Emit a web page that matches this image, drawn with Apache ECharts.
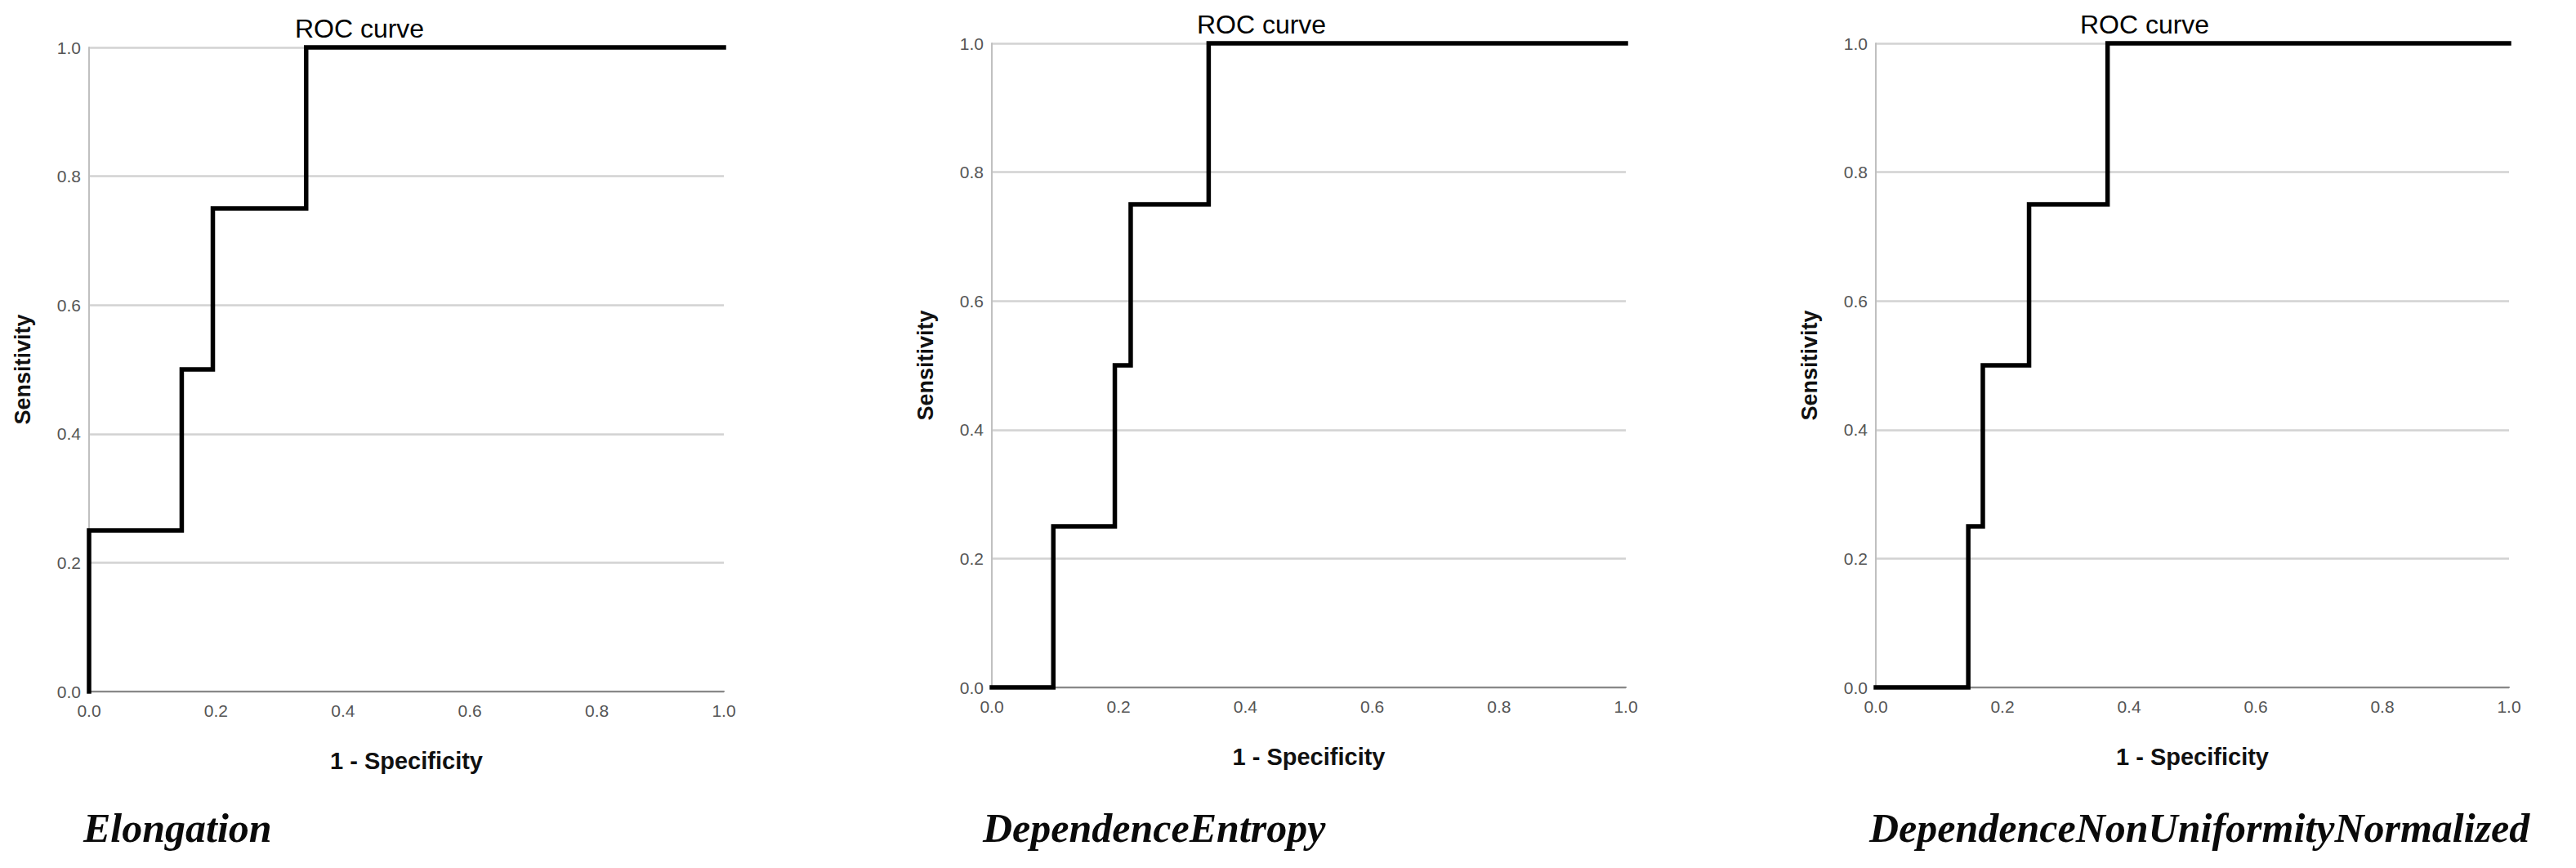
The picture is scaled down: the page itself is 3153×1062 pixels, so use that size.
<!DOCTYPE html>
<html>
<head>
<meta charset="utf-8">
<style>
html,body{margin:0;padding:0;background:#fff;}
#c{width:3153px;height:1062px;}
</style>
<script src="https://cdn.jsdelivr.net/npm/echarts@6/dist/echarts.min.js"></script>
</head>
<body>
<div id="c"></div>
<script>
// ROC curve points (1 - Specificity, Sensitivity)
const fprElongation = [0, 0, 0.146, 0.146, 0.195, 0.195, 0.342, 0.342, 1.0];
const tprElongation = [0, 0.25, 0.25, 0.5, 0.5, 0.75, 0.75, 1.0, 1.0];
const fprEntropy = [0, 0.097, 0.097, 0.194, 0.194, 0.219, 0.219, 0.342, 0.342, 1.0];
const tprEntropy = [0, 0, 0.25, 0.25, 0.5, 0.5, 0.75, 0.75, 1.0, 1.0];
const fprNonUnif = [0, 0.146, 0.146, 0.169, 0.169, 0.242, 0.242, 0.366, 0.366, 1.0];
const tprNonUnif = [0, 0, 0.25, 0.25, 0.5, 0.5, 0.75, 0.75, 1.0, 1.0];
const tickValues = [0.0, 0.2, 0.4, 0.6, 0.8, 1.0];
const chartTitle = 'ROC curve';
const xName = '1 - Specificity';
const yName = 'Sensitivity';
const captions = ['Elongation', 'DependenceEntropy', 'DependenceNonUniformityNormalized'];

const panels = [
  {fpr: fprElongation, tpr: tprElongation, grid: {left: 109, top: 58, width: 777, height: 788}, titleX: 440, titleY: 19, capX: 102},
  {fpr: fprEntropy, tpr: tprEntropy, grid: {left: 1214, top: 53, width: 776, height: 788}, titleX: 1544, titleY: 14, capX: 1203},
  {fpr: fprNonUnif, tpr: tprNonUnif, grid: {left: 2296, top: 53, width: 775, height: 788}, titleX: 2625, titleY: 14, capX: 2288}
];

const chart = echarts.init(document.getElementById('c'), null, {renderer: 'svg'});
const option = {
  backgroundColor: '#fff',
  animation: false,
  title: [],
  grid: [], xAxis: [], yAxis: [], series: []
};
const labelFont = {fontFamily: 'Liberation Sans', fontSize: 21, color: '#555'};
panels.forEach((p, i) => {
  option.grid.push(p.grid);
  option.title.push({
    text: chartTitle, left: p.titleX, top: p.titleY, textAlign: 'center', padding: 0,
    textStyle: {fontFamily: 'Liberation Sans', fontSize: 32, fontWeight: 'normal', color: '#000'}
  });
  option.title.push({
    text: captions[i], left: p.capX, top: 988, padding: 0,
    textStyle: {fontFamily: 'Liberation Serif', fontSize: 50, fontWeight: 'bold', fontStyle: 'italic', color: '#0a0a0a'}
  });
  option.xAxis.push({
    type: 'value', gridIndex: i, min: 0, max: 1, interval: 0.2,
    name: xName, nameLocation: 'middle', nameGap: 70,
    nameTextStyle: {fontFamily: 'Liberation Sans', fontSize: 29, fontWeight: 'bold', color: '#111'},
    axisLine: {show: true, onZero: false, lineStyle: {color: '#888', width: 2}},
    axisTick: {show: false},
    splitLine: {show: false},
    axisLabel: Object.assign({margin: 13, formatter: v => v.toFixed(1)}, labelFont)
  });
  option.yAxis.push({
    type: 'value', gridIndex: i, min: 0, max: 1, interval: 0.2,
    name: yName, nameLocation: 'middle', nameGap: 68,
    nameTextStyle: {fontFamily: 'Liberation Sans', fontSize: 27, fontWeight: 'bold', color: '#111'},
    axisLine: {show: true, lineStyle: {color: '#c0c0c0', width: 2}},
    axisTick: {show: false},
    splitLine: {show: true, lineStyle: {color: '#d2d2d2', width: 2.5}},
    axisLabel: Object.assign({margin: 10, padding: [10, 0, 0, 0], formatter: v => v.toFixed(1)}, labelFont)
  });
  option.series.push({
    type: 'line', xAxisIndex: i, yAxisIndex: i,
    data: p.fpr.map((x, k) => [x, p.tpr[k]]),
    showSymbol: false, symbol: 'none', clip: false,
    lineStyle: {color: '#000', width: 5.5, join: 'miter', cap: 'square'},
    z: 5
  });
});
chart.setOption(option);
</script>
</body>
</html>
